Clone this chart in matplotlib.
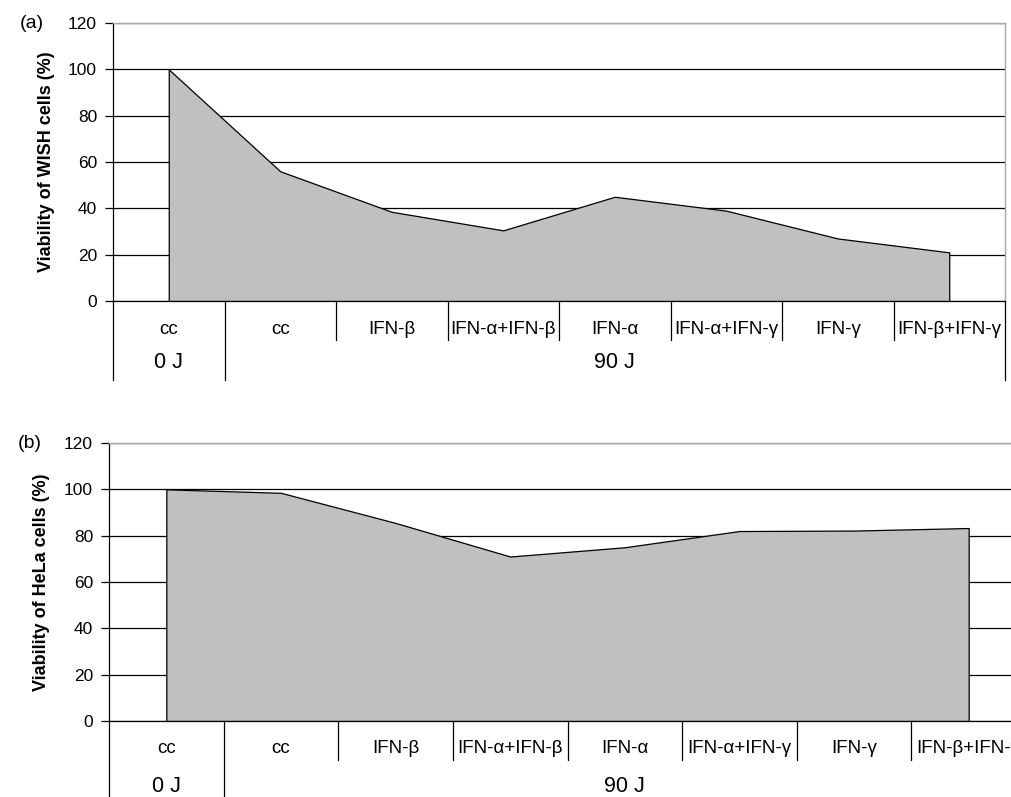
import matplotlib
matplotlib.use("Agg")
import matplotlib.pyplot as plt
import numpy as np

plt.rcParams['font.family'] = ['Liberation Sans', 'DejaVu Sans']

# Data
categories = ['cc', 'cc', 'IFN-β', 'IFN-α+IFN-β', 'IFN-α', 'IFN-α+IFN-γ', 'IFN-γ', 'IFN-β+IFN-γ']
groups = ['0 J', '90 J']
group_sizes = [1, 7]
wish_viability = [100, 56, 38.5, 30.5, 45, 39, 27, 21]
hela_viability = [100, 98.5, 85.5, 71, 75, 82, 82.2, 83.3]
yticks = [0, 20, 40, 60, 80, 100, 120]

W, H = 1011, 797
fig = plt.figure(figsize=(W / 100, H / 100), dpi=100)


def px_axes(left, right, top, bottom):
    return fig.add_axes([left / W, (H - bottom) / H, (right - left) / W, (bottom - top) / H])


def draw_panel(ax, values, ylabel, panel, label_x, tick_y, lab_y, grp_y, grp_line_y):
    x = np.arange(len(categories))
    ax.set_xlim(-0.5, len(categories) - 0.5)
    ax.set_ylim(0, 120)
    ax.set_yticks(yticks)
    ax.set_axisbelow(True)
    ax.yaxis.grid(True, color='black', lw=0.9)
    ax.fill_between(x, 0, values, facecolor='#c0c0c0', edgecolor='black', lw=0.9, zorder=2)

    for s in ['top', 'right']:
        ax.spines[s].set_color('#a8a8a8')
        ax.spines[s].set_linewidth(1.0)
    for s in ['left', 'bottom']:
        ax.spines[s].set_color('black')
        ax.spines[s].set_linewidth(0.9)

    ax.tick_params(axis='y', direction='out', length=6, width=0.9, pad=5.5, labelsize=12.5)
    ax.set_xticks([])
    ax.set_ylabel(ylabel, fontsize=13, fontweight='bold')
    ax.yaxis.set_label_coords(label_x, 0.5)

    tr = ax.get_xaxis_transform()
    # category labels and separators
    for i, c in enumerate(categories):
        ax.text(i, lab_y, c, transform=tr, ha='center', va='center', fontsize=13.5, clip_on=False)
    group_edges = np.concatenate([[0], np.cumsum(group_sizes)]) - 0.5
    for i in range(len(categories) + 1):
        b = i - 0.5
        y_end = grp_line_y if b in group_edges else tick_y
        ax.plot([b, b], [0, y_end], transform=tr, color='black', lw=0.9, clip_on=False)
    for g, lo, hi in zip(groups, group_edges[:-1], group_edges[1:]):
        ax.text((lo + hi) / 2, grp_y, g, transform=tr, ha='center', va='center', fontsize=15.5, clip_on=False)

    ax.text(-0.104 if panel == '(a)' else -0.1, 1.0, panel, transform=ax.transAxes,
            ha='left', va='center', fontsize=14)


ax1 = px_axes(113, 1005, 23, 301)
draw_panel(ax1, wish_viability, 'Viability of WISH cells (%)', '(a)',
           -0.065, -0.14, -0.104, -0.223, -0.284)

ax2 = px_axes(109, 1026, 443, 721)
draw_panel(ax2, hela_viability, 'Viability of HeLa cells (%)', '(b)',
           -0.064, -0.14, -0.10, -0.237, -0.35)

fig.savefig('out.png', dpi=100)
